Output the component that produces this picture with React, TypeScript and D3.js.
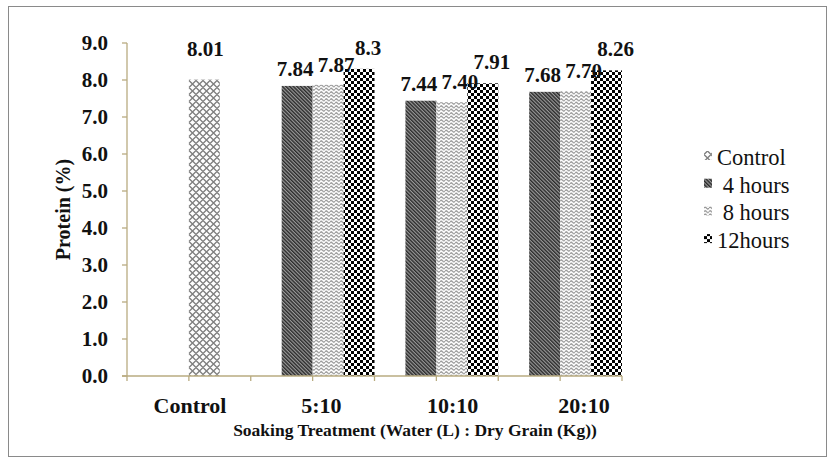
import React from 'react';
import * as d3 from 'd3';

const categories = ['Control', '5:10', '10:10', '20:10'];
const controlValues = [8.01, null, null, null];
const hours4Values = [null, 7.84, 7.44, 7.68];
const hours8Values = [null, 7.87, 7.40, 7.70];
const hours12Values = [null, 8.3, 7.91, 8.26];
const controlLabels = ['8.01', '', '', ''];
const hours4Labels = ['', '7.84', '7.44', '7.68'];
const hours8Labels = ['', '7.87', '7.40', '7.70'];
const hours12Labels = ['', '8.3', '7.91', '8.26'];
const legendNames = ['Control', ' 4 hours', ' 8 hours', '12hours'];
const yTicks = [0, 1, 2, 3, 4, 5, 6, 7, 8, 9];

const W = 833;
const H = 464;
const font = "'Liberation Serif', 'Times New Roman', Times, serif";
const axisColor = '#b8ab80';

// slot = position inside the category group, dx/dy = label nudge like the excel file
const series = [
  { name: legendNames[0], values: controlValues, labels: controlLabels, pat: 'pCtrl', slot: '2', dx: 1, dy: 24 },
  { name: legendNames[1], values: hours4Values, labels: hours4Labels, pat: 'p4', slot: '1', dx: -2, dy: 10 },
  { name: legendNames[2], values: hours8Values, labels: hours8Labels, pat: 'p8', slot: '2', dx: 8, dy: 13 },
  { name: legendNames[3], values: hours12Values, labels: hours12Labels, pat: 'p12', slot: '3', dx: 9, dy: 14 },
];

export default function App() {
  const x = d3.scaleBand().domain(categories).range([127, 622]).padding(0);
  const slot = d3.scaleBand().domain(['0', '1', '2', '3']).range([0, x.bandwidth()]);
  const y = d3.scaleLinear().domain([0, 9]).range([376, 43]);
  const labelX = d3.scalePoint().domain(categories).range([190, 584]);
  const fmt = d3.format('.1f');

  const xTicks: number[] = [];
  categories.forEach(c => {
    xTicks.push(x(c)!);
    xTicks.push(x(c)! + x.bandwidth() / 2);
  });
  xTicks.push(x.range()[1]);

  const txt = { fontFamily: font };

  return (
    <svg width={W} height={H} style={{ position: 'absolute', left: 0, top: 0, background: '#fff' }}>
      <defs>
        <pattern id="pCtrl" width="7" height="7" patternUnits="userSpaceOnUse">
          <rect width="7" height="7" fill="#fff" />
          <path d="M0,3.5 L3.5,0 L7,3.5 L3.5,7 Z" fill="none" stroke="#808080" strokeWidth="1.4" />
        </pattern>
        <pattern id="p4" width="2.6" height="2.6" patternUnits="userSpaceOnUse" patternTransform="rotate(-45)">
          <rect width="2.6" height="2.6" fill="#9a9a9a" />
          <rect width="1.4" height="2.6" fill="#2a2a2a" />
        </pattern>
        <pattern id="p8" width="5" height="3.5" patternUnits="userSpaceOnUse">
          <rect width="5" height="3.5" fill="#fff" />
          <path d="M0,1.75 Q1.25,0 2.5,1.75 T5,1.75" fill="none" stroke="#888" strokeWidth="1.1" />
        </pattern>
        <pattern id="p12" width="6" height="6" patternUnits="userSpaceOnUse">
          <rect width="6" height="6" fill="#fff" />
          <rect width="3" height="3" fill="#000" />
          <rect x="3" y="3" width="3" height="3" fill="#000" />
        </pattern>
      </defs>

      <rect x={8.5} y={6.5} width={818} height={450} fill="none" stroke="#8a8a8a" strokeWidth={1} />

      {/* bars */}
      {series.map(s => (
        <g key={s.name}>
          {categories.map((c, i) => {
            const v = s.values[i];
            if (v == null) return null;
            return (
              <rect key={c} x={x(c)! + slot(s.slot)!} y={y(v)} width={slot.bandwidth()}
                height={y(0) - y(v)} fill={`url(#${s.pat})`} />
            );
          })}
        </g>
      ))}

      {/* value labels */}
      {series.map(s => (
        <g key={s.name + 'lab'}>
          {categories.map((c, i) => {
            const v = s.values[i];
            if (v == null) return null;
            return (
              <text key={c} x={x(c)! + slot(s.slot)! + slot.bandwidth() / 2 + s.dx} y={y(v) - s.dy}
                textAnchor="middle" fontSize={21} fontWeight="bold" fill="#111" style={txt}>
                {s.labels[i]}
              </text>
            );
          })}
        </g>
      ))}

      {/* y axis */}
      <line x1={127} x2={127} y1={y(9)} y2={y(0)} stroke={axisColor} strokeWidth={1.3} />
      {yTicks.map(t => (
        <g key={t}>
          <line x1={122} x2={127} y1={y(t)} y2={y(t)} stroke={axisColor} strokeWidth={1.3} />
          <text x={108} y={y(t) + 7} textAnchor="end" fontSize={21} fontWeight="bold" fill="#111" style={txt}>
            {fmt(t)}
          </text>
        </g>
      ))}

      {/* x axis */}
      <line x1={122} x2={x.range()[1]} y1={y(0)} y2={y(0)} stroke={axisColor} strokeWidth={1.3} />
      {xTicks.map((t, i) => (
        <line key={i} x1={t} x2={t} y1={y(0)} y2={y(0) + 5} stroke={axisColor} strokeWidth={1.3} />
      ))}
      {categories.map(c => (
        <text key={c} x={labelX(c)} y={413} textAnchor="middle" fontSize={22} fontWeight="bold" fill="#111" style={txt}>
          {c}
        </text>
      ))}

      <text x={415} y={436} textAnchor="middle" fontSize={17.5} fontWeight="bold" fill="#111" style={txt}>
        Soaking Treatment (Water (L) : Dry Grain (Kg))
      </text>
      <text transform={`translate(70,${(y(0) + y(9)) / 2}) rotate(-90)`} textAnchor="middle"
        fontSize={20} fontWeight="bold" fill="#111" style={txt}>
        Protein (%)
      </text>

      {/* legend */}
      {series.map((s, i) => (
        <g key={s.name + 'leg'} transform={`translate(704,${165 + i * 27.7})`}>
          <rect x={0} y={-14} width={8} height={9} fill={`url(#${s.pat})`} />
          <text x={13} y={0} fontSize={22.5} fill="#111" style={{ ...txt, whiteSpace: 'pre' }}>{s.name}</text>
        </g>
      ))}
    </svg>
  );
}
